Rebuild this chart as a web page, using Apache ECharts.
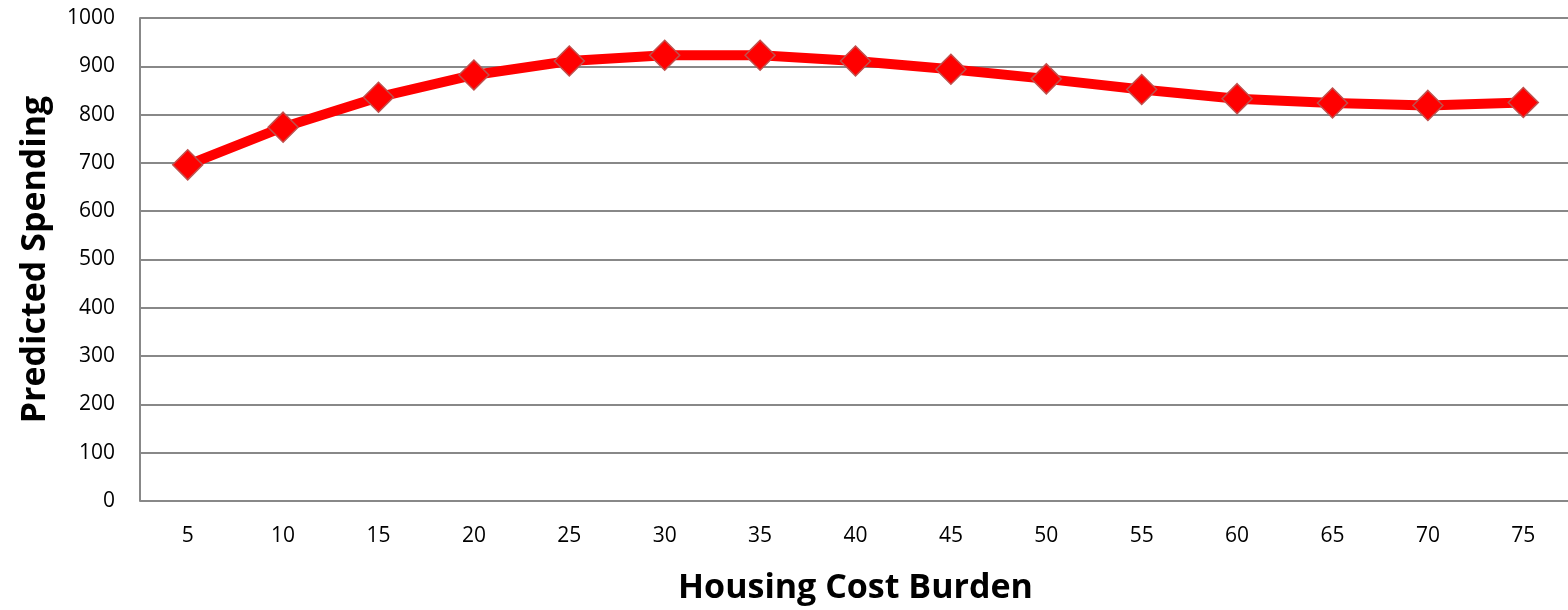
<!DOCTYPE html>
<html>
<head>
<meta charset="utf-8">
<script src="https://cdn.jsdelivr.net/npm/echarts@6/dist/echarts.min.js"></script>
<style>
  html, body { margin: 0; padding: 0; background: #fff; }
  #main { width: 1568px; height: 610px; }
</style>
</head>
<body>
<div id="main"></div>
<script>
var burden = ['5', '10', '15', '20', '25', '30', '35', '40', '45', '50', '55', '60', '65', '70', '75']
var spending = [696, 774, 836, 882, 911, 923, 923, 911, 894, 874, 852, 833, 824, 819, 825]
var yTicks = [0, 1000, 100]

var myChart = echarts.init(document.querySelector('#main'))

var option = {
  animation: false,
  grid: { left: 140, top: 18, right: -3, bottom: 109, containLabel: false, outerBoundsMode: 'none' },
  xAxis: {
    type: 'category',
    data: burden,
    name: 'Housing Cost Burden',
    nameLocation: 'middle',
    nameGap: 70,
    nameTextStyle: { fontFamily: 'Open Sans', fontSize: 34, fontWeight: 'bold', color: '#000' },
    axisLine: { show: false },
    axisTick: { show: false },
    axisLabel: { fontFamily: 'Open Sans', fontSize: 21, color: '#000', margin: 25 }
  },
  yAxis: {
    type: 'value',
    min: yTicks[0],
    max: yTicks[1],
    interval: yTicks[2],
    name: 'Predicted Spending',
    nameLocation: 'middle',
    nameGap: 88,
    nameTextStyle: { fontFamily: 'Open Sans', fontSize: 34, fontWeight: 'bold', color: '#000' },
    axisLine: { show: true, lineStyle: { color: '#888', width: 2 } },
    axisTick: { show: false },
    axisLabel: { fontFamily: 'Open Sans', fontSize: 21, color: '#000', margin: 25, formatter: function (v) { return String(v) } },
    splitLine: { lineStyle: { color: '#888', width: 2 } }
  },
  series: [{
    type: 'line',
    data: spending,
    symbol: 'diamond',
    symbolSize: 30,
    lineStyle: { color: '#ff0000', width: 10 },
    itemStyle: { color: '#ff0000', borderColor: '#c0504d', borderWidth: 1.5 }
  }]
}

myChart.setOption(option)
</script>
</body>
</html>
